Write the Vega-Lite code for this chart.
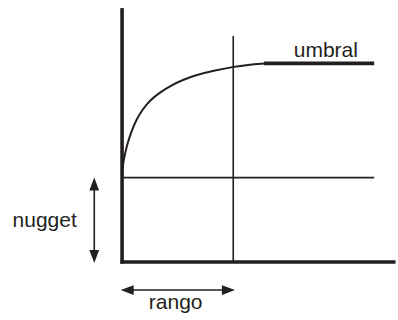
{
  "$schema": "https://vega.github.io/schema/vega-lite/v6.json",
  "width": 398,
  "height": 320,
  "autosize": {"type": "fit", "contains": "padding"},
  "padding": 0,
  "background": "white",
  "config": {"view": {"stroke": null}},
  "datasets": {
    "curve": [
      {"h": 0.0, "g": 0.432},
      {"h": 0.004, "g": 0.47},
      {"h": 0.014, "g": 0.51},
      {"h": 0.03, "g": 0.552},
      {"h": 0.05, "g": 0.598},
      {"h": 0.08, "g": 0.65},
      {"h": 0.125, "g": 0.712},
      {"h": 0.185, "g": 0.768},
      {"h": 0.255, "g": 0.814},
      {"h": 0.339, "g": 0.852},
      {"h": 0.438, "g": 0.886},
      {"h": 0.545, "g": 0.915},
      {"h": 0.67, "g": 0.94},
      {"h": 0.821, "g": 0.961},
      {"h": 1.0, "g": 0.981},
      {"h": 1.134, "g": 0.991},
      {"h": 1.277, "g": 0.997}
    ],
    "axes": [
      {"x": 0, "x2": 0, "y": -0.009, "y2": 1.276},
      {"x": -0.015, "x2": 2.46, "y": 0, "y2": 0}
    ],
    "thin": [
      {"x": 1.0, "x2": 1.0, "y": 0, "y2": 1.136},
      {"x": 0, "x2": 2.268, "y": 0.424, "y2": 0.424},
      {"x": -0.25, "x2": -0.25, "y": 0.39, "y2": 0.03},
      {"x": 0.046, "x2": 0.957, "y": -0.141, "y2": -0.141}
    ],
    "sill": [
      {"x": 1.277, "x2": 2.268, "y": 0.998, "y2": 0.998}
    ],
    "heads": [
      {"x": -0.25, "y": 0.392, "dir": "up"},
      {"x": -0.25, "y": 0.028, "dir": "down"},
      {"x": 0.046, "y": -0.141, "dir": "left"},
      {"x": 0.957, "y": -0.141, "dir": "right"}
    ],
    "labels": [
      {"x": -0.696, "y": 0.176, "label": "nugget"},
      {"x": 1.833, "y": 1.032, "label": "umbral"},
      {"x": 0.482, "y": -0.238, "label": "rango"}
    ]
  },
  "layer": [
    {
      "data": {"name": "thin"},
      "mark": {"type": "rule", "color": "#231f20", "strokeWidth": 1.6},
      "encoding": {
        "x": {"field": "x", "type": "quantitative", "scale": {"domain": [-1.098, 2.455], "nice": false, "zero": false}, "axis": null},
        "x2": {"field": "x2"},
        "y": {"field": "y", "type": "quantitative", "scale": {"domain": [-0.2915, 1.3166], "nice": false, "zero": false}, "axis": null},
        "y2": {"field": "y2"}
      }
    },
    {
      "data": {"name": "axes"},
      "mark": {"type": "rule", "color": "#231f20", "strokeWidth": 3.6, "strokeCap": "butt"},
      "encoding": {
        "x": {"field": "x", "type": "quantitative"},
        "x2": {"field": "x2"},
        "y": {"field": "y", "type": "quantitative"},
        "y2": {"field": "y2"}
      }
    },
    {
      "data": {"name": "sill"},
      "mark": {"type": "rule", "color": "#231f20", "strokeWidth": 3.8},
      "encoding": {
        "x": {"field": "x", "type": "quantitative"},
        "x2": {"field": "x2"},
        "y": {"field": "y", "type": "quantitative"},
        "y2": {"field": "y2"}
      }
    },
    {
      "data": {"name": "curve"},
      "mark": {"type": "line", "color": "#231f20", "strokeWidth": 2, "interpolate": "basis"},
      "encoding": {
        "x": {"field": "h", "type": "quantitative"},
        "y": {"field": "g", "type": "quantitative"}
      }
    },
    {
      "data": {"name": "heads"},
      "mark": {"type": "point", "filled": true, "opacity": 1, "color": "#231f20", "size": 169},
      "encoding": {
        "x": {"field": "x", "type": "quantitative"},
        "y": {"field": "y", "type": "quantitative"},
        "shape": {
          "field": "dir",
          "type": "nominal",
          "legend": null,
          "scale": {
            "domain": ["up", "down", "left", "right"],
            "range": ["M0,-1L0.75,1L-0.75,1Z", "M0,1L0.75,-1L-0.75,-1Z", "M-1,0L1,-0.75L1,0.75Z", "M1,0L-1,-0.75L-1,0.75Z"]
          }
        }
      }
    },
    {
      "data": {"name": "labels"},
      "mark": {"type": "text", "font": "Liberation Sans", "fontSize": 21, "color": "#231f20", "align": "center", "baseline": "alphabetic"},
      "encoding": {
        "x": {"field": "x", "type": "quantitative"},
        "y": {"field": "y", "type": "quantitative"},
        "text": {"field": "label", "type": "nominal"}
      }
    }
  ]
}
